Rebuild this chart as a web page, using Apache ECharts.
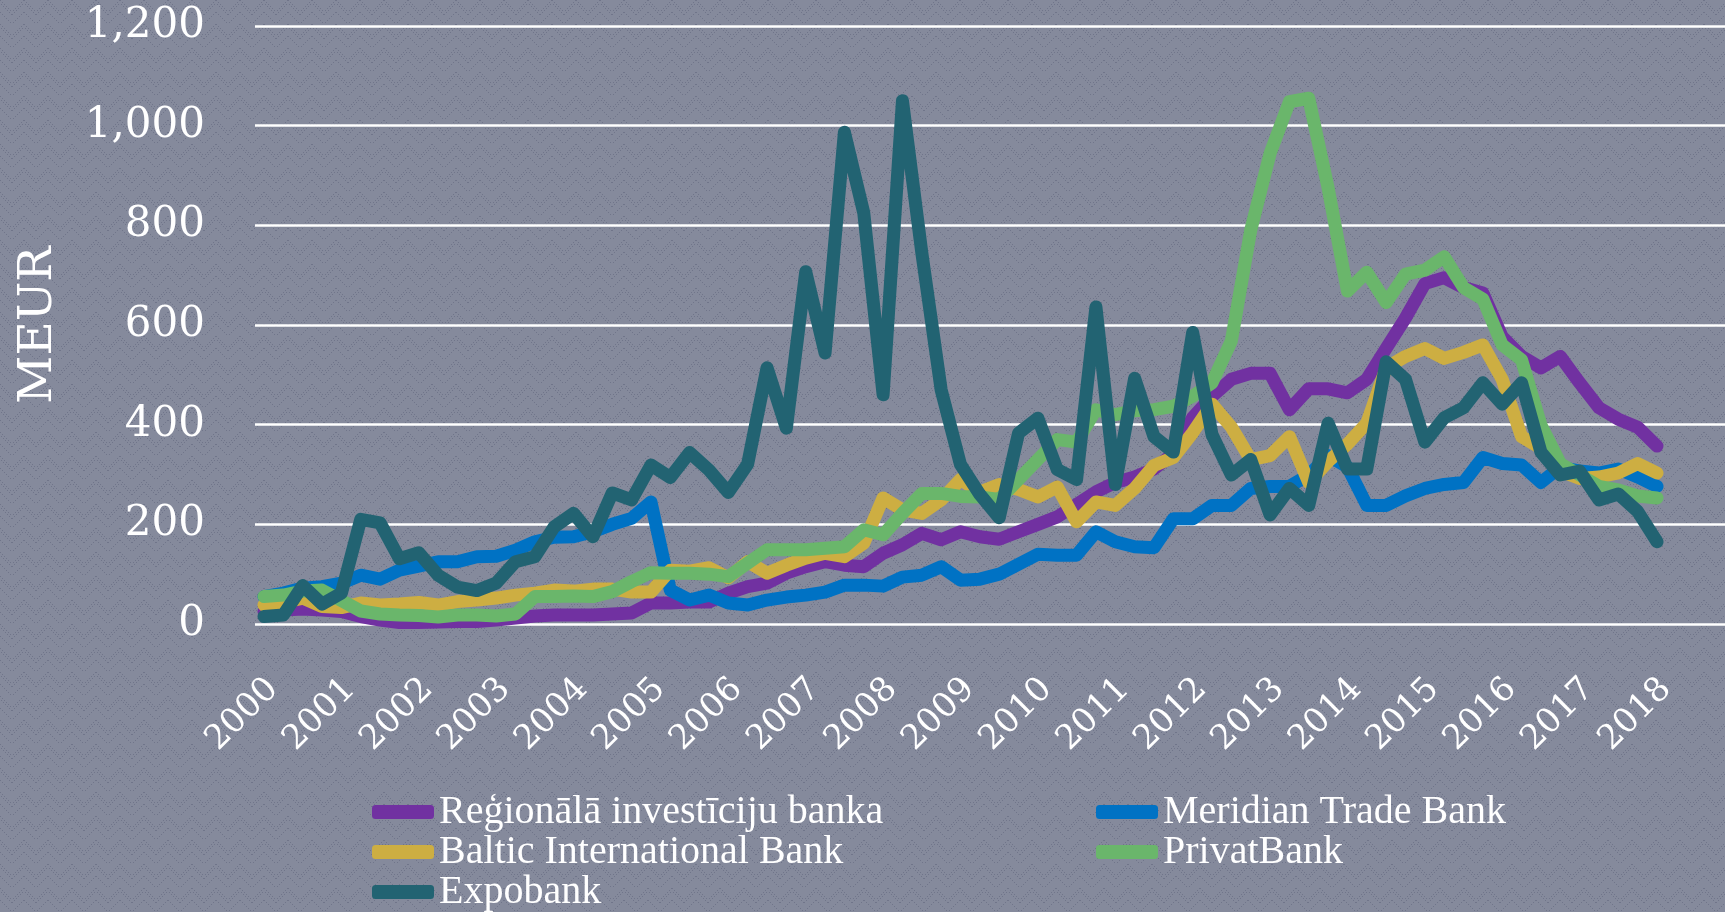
<!DOCTYPE html>
<html>
<head>
<meta charset="utf-8">
<script src="https://cdn.jsdelivr.net/npm/echarts@6/dist/echarts.min.js"></script>
<style>
html, body { margin: 0; padding: 0; background: #80869a; }
#chart_div { width: 1725px; height: 912px; }
</style>
</head>
<body>
<div id="chart_div"></div>
<script>

var years = ['2000','2001','2002','2003','2004','2005','2006','2007','2008','2009',
	'2010','2011','2012','2013','2014','2015','2016','2017','2018'];

var names = ['Reģionālā investīciju banka', 'Meridian Trade Bank', 'Baltic International Bank', 'PrivatBank', 'Expobank'];
var colors = ['#7131a1', '#0072c4', '#cdae42', '#6ab66b', '#226372'];

// quarterly values, MEUR, 2000 Q1 .. 2018 Q1
var regionala = [25, 28, 30, 28, 25, 15, 8,
	3, 3, 4, 5, 5, 8, 12,
	16, 18, 18, 18, 20, 22, 42,
	42, 44, 44, 62, 75, 82, 102,
	115, 125, 118, 115, 142, 159, 182, 169,
	185, 175, 170, 185, 200, 215, 240, 265, 284,
	295, 311, 342, 414, 457, 491, 503, 503, 430, 472, 472, 464,
	491, 553, 614, 683, 695, 675, 664, 576, 537, 514, 537, 484, 434, 411, 395, 357];

var meridian = [55, 62, 72, 75, 82, 98, 90,
	108, 116, 125, 125, 135, 136, 148,
	165, 174, 175, 185, 200, 212, 245,
	68, 48, 58, 42, 38, 48, 54,
	58, 64, 78, 78, 76, 94, 98, 115,
	88, 90, 100, 120, 140, 138, 138, 185, 165,
	155, 153, 211, 211, 238, 238, 272, 276, 276, 299, 338, 315,
	238, 238, 257, 272, 280, 284, 334, 322, 319, 284, 315, 307, 303, 311, 295, 276];

var baltic = [38, 43, 52, 35, 33, 42, 38,
	40, 43, 38, 45, 48, 52, 58,
	62, 68, 66, 70, 70, 64, 64,
	108, 106, 113, 93, 125, 102, 118,
	132, 142, 135, 162, 253, 229, 222, 249,
	290, 265, 280, 270, 255, 275, 205, 245, 238,
	272, 318, 334, 384, 441, 395, 330, 338, 376, 284, 326, 361,
	403, 514, 537, 553, 533, 545, 560, 491, 376, 353, 307, 292, 295, 303, 322, 303];

var privat = [55, 58, 66, 68, 47, 26, 20,
	18, 17, 14, 18, 18, 16, 20,
	55, 55, 56, 55, 65, 85, 103,
	102, 102, 100, 95, 122, 149, 149,
	149, 152, 155, 189, 179, 222, 262, 262,
	256, 255, 250, 290, 330, 370, 365, 430, 420,
	428, 430, 437, 457, 484, 568, 790, 944, 1048, 1055, 875, 668,
	706, 645, 702, 710, 737, 675, 652, 560, 530, 399, 322, 299, 276, 269, 257, 253];

var expobank = [15, 18, 77, 40, 62, 210, 203,
	131, 143, 98, 74, 67, 82, 125,
	135, 195, 222, 175, 263, 249, 319,
	294, 344, 309, 264, 321, 514, 393,
	707, 544, 987, 825, 460, 1050, 745, 470,
	320, 260, 213, 383, 413, 310, 290, 636, 280,
	493, 376, 345, 585, 380, 299, 330, 219, 272, 238, 403, 311,
	311, 526, 491, 365, 414, 434, 484, 441, 484, 345, 299, 307, 249, 261, 226, 165];

var y_ticks = {min: 0, max: 1200, interval: 200};

// one category per quarter, labelled with its year
var quarters = [];
for (var i = 0; i < years.length; i++) {
	var n = (i == years.length - 1) ? 1 : 4;
	for (var q = 0; q < n; q++) quarters.push(years[i]);
}

// textured backdrop like the slide template
function makePattern() {
	var c = document.createElement('canvas');
	c.width = 24; c.height = 24;
	var ctx = c.getContext('2d');
	ctx.fillStyle = '#858a9c';
	ctx.fillRect(0, 0, 24, 24);
	ctx.fillStyle = '#70758a';
	for (var k = 0; k < 12; k += 2) {
		ctx.fillRect(k, k, 1, 1);
		ctx.fillRect(23 - k, k, 1, 1);
		ctx.fillRect(k, 12 + k, 1, 1);
		ctx.fillRect(23 - k, 12 + k, 1, 1);
		ctx.fillRect(k + 1, k + 4 > 23 ? k : k + 4, 1, 1);
		ctx.fillRect(22 - k, k + 4 > 23 ? k : k + 4, 1, 1);
	}
	return c;
}

var serif = 'DejaVu Serif';

var t_series = [];
var t_data = [regionala, meridian, baltic, privat, expobank];
for (var s = 0; s < names.length; s++) {
	t_series.push({
		name: names[s],
		type: 'line',
		xAxisIndex: 1,
		yAxisIndex: 1,
		data: t_data[s],
		symbol: 'none',
		color: colors[s],
		lineStyle: {width: 13, color: colors[s], cap: 'round', join: 'round'},
		z: 3 + s
	});
}

var legendText = {color: '#ffffff', fontFamily: 'Liberation Serif', fontSize: 40, lineHeight: 39};

var option = {
	animation: false,
	backgroundColor: {image: makePattern(), repeat: 'repeat'},
	grid: [
		{left: 255, right: 0, top: 26, bottom: 288, outerBoundsMode: 'none'},
		{left: 264, right: 68, top: 26, bottom: 288, outerBoundsMode: 'none'},
		{left: 273, right: 59, top: 26, bottom: 288, outerBoundsMode: 'none'}
	],
	legend: [
		{
			data: [names[0], names[2], names[4]],
			orient: 'vertical', left: 372, top: 792, itemGap: 0, padding: 0,
			itemWidth: 62, itemHeight: 14, icon: 'roundRect',
			textStyle: legendText
		},
		{
			data: [names[1], names[3]],
			orient: 'vertical', left: 1096, top: 792, itemGap: 0, padding: 0,
			itemWidth: 62, itemHeight: 14, icon: 'roundRect',
			textStyle: legendText
		}
	],
	xAxis: [
		{gridIndex: 0, type: 'category', data: quarters, show: false},
		{gridIndex: 1, type: 'category', data: quarters, boundaryGap: false,
			axisLine: {show: false}, axisTick: {show: false}, axisLabel: {show: false}},
		{gridIndex: 2, type: 'category', data: quarters, boundaryGap: false,
			axisLine: {show: false}, axisTick: {show: false},
			axisLabel: {interval: 3, rotate: 45, margin: 60, color: '#ffffff',
				fontFamily: serif, fontSize: 34}}
	],
	yAxis: [
		{gridIndex: 0, type: 'value', min: y_ticks.min, max: y_ticks.max, interval: y_ticks.interval,
			name: 'MEUR', nameLocation: 'middle', nameGap: 193, nameRotate: 90,
			nameTextStyle: {color: '#ffffff', fontFamily: serif, fontSize: 47},
			axisLine: {show: false}, axisTick: {show: false},
			axisLabel: {margin: 50, color: '#ffffff', fontFamily: serif, fontSize: 42, padding: [8, 0, 0, 0]},
			splitLine: {lineStyle: {color: '#ffffff', width: 2.5}}},
		{gridIndex: 1, type: 'value', min: y_ticks.min, max: y_ticks.max, interval: y_ticks.interval, show: false},
		{gridIndex: 2, type: 'value', min: y_ticks.min, max: y_ticks.max, interval: y_ticks.interval, show: false}
	],
	series: t_series
};

var chart = echarts.init(document.getElementById('chart_div'));
chart.setOption(option);

</script>
</body>
</html>
